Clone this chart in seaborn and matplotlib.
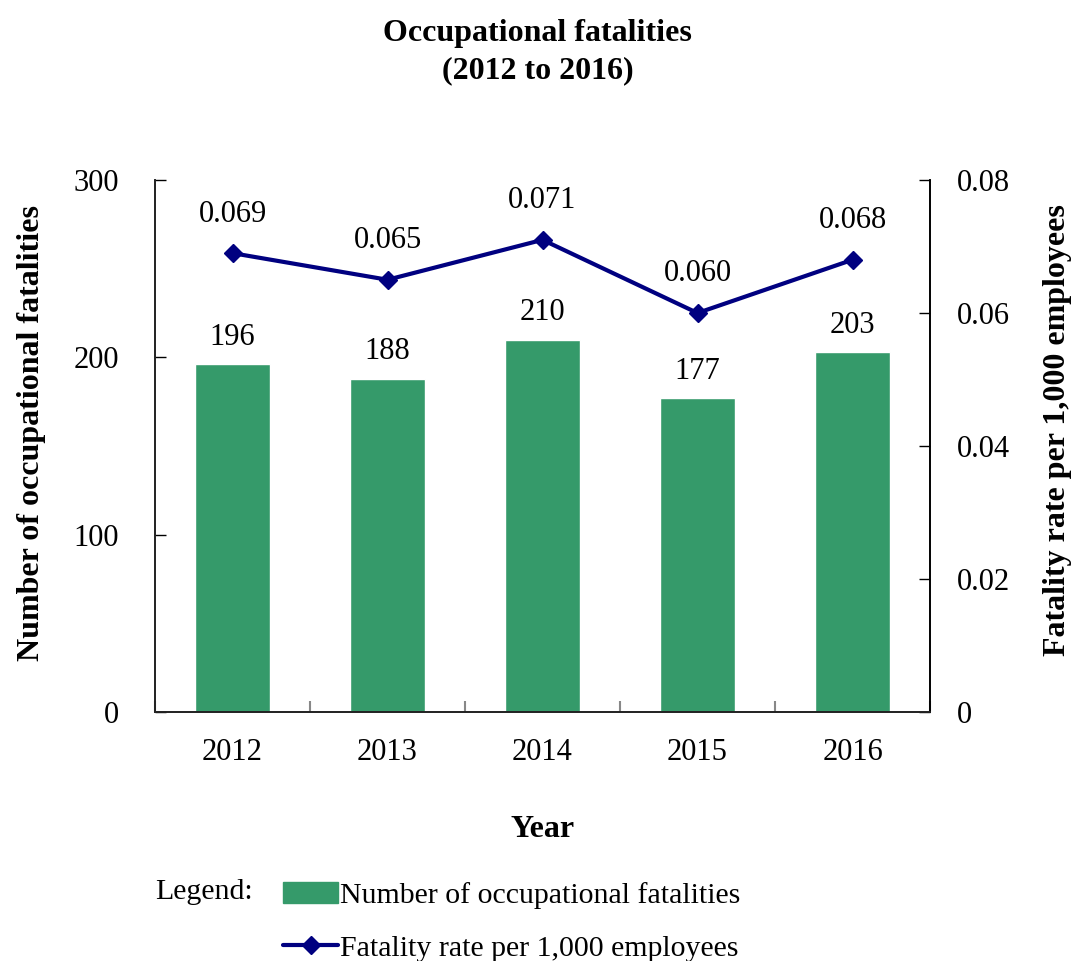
import numpy as np
import pandas as pd
import matplotlib
matplotlib.use("Agg")
import matplotlib.pyplot as plt
import seaborn as sns
from matplotlib.patches import Patch
from matplotlib.lines import Line2D

years = ["2012", "2013", "2014", "2015", "2016"]
fatalities = [196, 188, 210, 177, 203]
rates = [0.069, 0.065, 0.071, 0.060, 0.068]
rate_labels = ["0.069", "0.065", "0.071", "0.060", "0.068"]
left_ticks = [0, 100, 200, 300]
right_ticks = [0, 0.02, 0.04, 0.06, 0.08]
right_tick_labels = ["0", "0.02", "0.04", "0.06", "0.08"]

sns.set_theme(style="white")
plt.rcParams["font.family"] = ["Liberation Serif", "DejaVu Serif"]
plt.rcParams["text.color"] = "black"
plt.rcParams["axes.labelcolor"] = "black"
plt.rcParams["xtick.color"] = "black"
plt.rcParams["ytick.color"] = "black"

BAR = "#359A6A"
LINE = "#000080"
FS = 22
FSB = 23

fig = plt.figure(figsize=(10.75, 9.61), dpi=100)
ax = fig.add_axes([155/1075, 1 - 712/961, (930-155)/1075, (712-180)/961])

df = pd.DataFrame({"Year": years, "Fatalities": fatalities})
sns.barplot(data=df, x="Year", y="Fatalities", color=BAR, saturation=1, width=0.49, ax=ax)
ax.set_xlim(-0.5, 4.5)
ax.set_ylim(0, 300)
ax.set_yticks(left_ticks)
ax.set_yticklabels([str(t) for t in left_ticks], fontsize=FS)
ax.set_xticks(np.arange(len(years)))
ax.set_xticklabels(years, fontsize=FS)
ax.tick_params(axis="x", length=0, pad=19)
ax.tick_params(axis="y", direction="in", length=8, width=1, color="black", pad=26, left=True)
ax.set_xticks(np.arange(len(years) + 1) - 0.5, minor=True)
ax.tick_params(axis="x", which="minor", direction="in", length=8, width=1.5, color="#888888", bottom=True)
ax.spines["top"].set_visible(False)
for s in ["left", "bottom", "right"]:
    ax.spines[s].set_color("black")
    ax.spines[s].set_linewidth(1.2)
ax.set_xlabel("Year", fontsize=FSB, fontweight="bold", labelpad=34)
ax.set_ylabel("Number of occupational fatalities", fontsize=FSB, fontweight="bold")
ax.yaxis.set_label_coords((46 - 155) / 775, (712 - 433) / 532)
for i, v in enumerate(fatalities):
    ax.text(i, v + 7, str(v), ha="center", va="bottom", fontsize=FS, color="black")

ax2 = ax.twinx()
ax2.plot(np.arange(len(years)), rates, color=LINE, lw=3, marker="D", ms=9, mfc=LINE, mec=LINE)
ax2.set_ylim(0, 0.08)
ax2.set_yticks(right_ticks)
ax2.set_yticklabels(right_tick_labels, fontsize=FS)
ax2.tick_params(axis="y", direction="in", length=8, width=1, color="black", pad=19, right=True)
ax2.spines["top"].set_visible(False)
ax2.spines["right"].set_color("black")
ax2.spines["right"].set_linewidth(1.2)
ax2.set_ylabel("Fatality rate per 1,000 employees", fontsize=FSB, fontweight="bold", rotation=90)
ax2.yaxis.set_label_coords((1043 - 155) / 775, (712 - 430) / 532)
for i, (v, lab) in enumerate(zip(rates, rate_labels)):
    ax2.text(i, v + 0.0037, lab, ha="center", va="bottom", fontsize=FS, color="black")

fig.text(0.5, 1 - 33/961, "Occupational fatalities", ha="center", va="center", fontsize=FSB, fontweight="bold")
fig.text(0.5, 1 - 71/961, "(2012 to 2016)", ha="center", va="center", fontsize=FSB, fontweight="bold")

fig.text(155/1075, 1 - 892/961, "Legend:", ha="left", va="center", fontsize=21.5)
handles = [Patch(facecolor=BAR, edgecolor=BAR),
           Line2D([0], [0], color=LINE, lw=3, marker="D", ms=9)]
labels = ["Number of occupational fatalities", "Fatality rate per 1,000 employees"]
fig.legend(handles, labels, loc="upper left", bbox_to_anchor=(283/1075, 1 - 882/961),
           frameon=False, fontsize=21.5, handlelength=1.85, handletextpad=0.05,
           labelspacing=0.86, borderaxespad=0, borderpad=0)

fig.savefig("out.png", dpi=100)
